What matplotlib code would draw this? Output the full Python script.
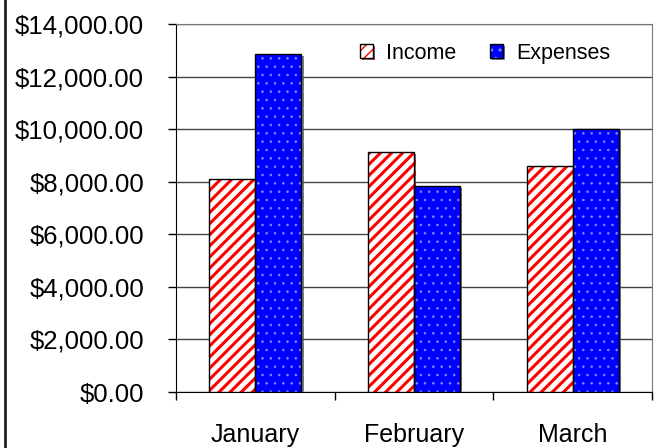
import numpy as np
import matplotlib
matplotlib.use('Agg')
import matplotlib.pyplot as plt
from matplotlib.lines import Line2D
from matplotlib.ticker import StrMethodFormatter, FixedLocator
import matplotlib.patheffects as pe

plt.rcParams['font.family'] = ['Liberation Sans', 'DejaVu Sans']

# Data
months = ['January', 'February', 'March']
income = [8100, 9130, 8580]
expenses = [12850, 7830, 10000]

x = np.arange(len(months))
w = 0.29

fig = plt.figure(figsize=(6.62, 4.48), dpi=100)
ax = fig.add_axes([0.2659, 0.125, 0.719, 0.8214])

shadow = [pe.SimplePatchShadow(offset=(1.6, -1.6), shadow_rgbFace='0.35', alpha=0.8), pe.Normal()]

# Income: red diagonal stripes on white
with plt.rc_context({'hatch.linewidth': 2.2}):
    inc = ax.bar(x - w / 2, income, w, color='white', edgecolor='red', hatch='///',
                 linewidth=0, path_effects=shadow, zorder=3)
inc_o = ax.bar(x - w / 2, income, w, fill=False, edgecolor='black', linewidth=1, zorder=4)
# Expenses: blue with small light dots
with plt.rc_context({'hatch.linewidth': 0.6}):
    exp = ax.bar(x + w / 2, expenses, w, color='#0000ff', edgecolor='#7f8cff', hatch='..',
                 linewidth=0, path_effects=shadow, zorder=3)
exp_o = ax.bar(x + w / 2, expenses, w, fill=False, edgecolor='black', linewidth=1, zorder=4)

ax.set_xlim(-0.5, 2.5)
ax.set_ylim(0, 14000)
ax.set_yticks(np.arange(0, 14001, 2000))
ax.yaxis.set_major_formatter(StrMethodFormatter('${x:,.2f}'))
ax.grid(axis='y', color='#444444', linewidth=1.0, zorder=1)

ax.set_xticks(x)
ax.set_xticklabels(months)
ax.xaxis.set_minor_locator(FixedLocator([-0.5, 0.5, 1.5, 2.5]))
ax.tick_params(axis='x', which='major', length=0, pad=22, labelsize=18)
ax.tick_params(axis='x', which='minor', length=6, width=1, color='black', direction='out')
ax.tick_params(axis='y', length=6, width=1, color='black', pad=17, labelsize=18.5)

for s in ['top', 'right']:
    ax.spines[s].set_color('#777777')
for s in ['left', 'bottom']:
    ax.spines[s].set_color('black')

ax.legend([(inc.patches[0], inc_o.patches[0]), (exp.patches[0], exp_o.patches[0])],
          ['Income', 'Expenses'], loc='center',
          bbox_to_anchor=(0.649, 0.921), ncol=2, frameon=False, fontsize=15.5,
          handlelength=0.6, handleheight=0.6, handletextpad=0.6, columnspacing=1.6)

fig.add_artist(Line2D([0.0076, 0.0076], [0, 1], transform=fig.transFigure,
                      color='#222222', linewidth=2))

fig.savefig('out.png', dpi=100)
